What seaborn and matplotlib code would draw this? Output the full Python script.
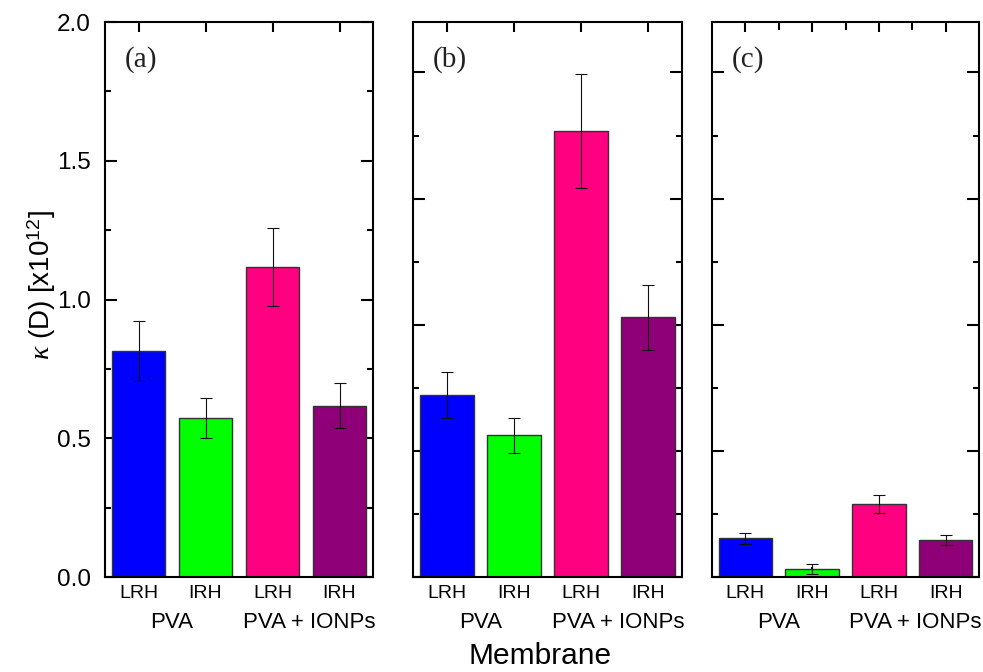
import pandas as pd
import seaborn as sns
import matplotlib
matplotlib.use('Agg')
from matplotlib import pyplot as plt
from matplotlib.ticker import MultipleLocator

sns.set_style("ticks")
plt.rcParams['font.family'] = ['Liberation Sans', 'DejaVu Sans']
plt.rcParams['mathtext.fontset'] = 'custom'
plt.rcParams['mathtext.rm'] = 'Liberation Sans'
plt.rcParams['mathtext.it'] = 'Liberation Serif:italic'
for key in ['text.color', 'axes.labelcolor', 'xtick.color', 'ytick.color']:
    plt.rcParams[key] = 'black'

# bars in each panel: PVA LRH, PVA IRH, PVA+IONPs LRH, PVA+IONPs IRH
bar_keys = ["PVA LRH", "PVA IRH", "IONP LRH", "IONP IRH"]
tick_labels = ["LRH", "IRH", "LRH", "IRH"]
group_labels = ["PVA", "PVA + IONPs"]
panel_names = ["(a)", "(b)", "(c)"]
colors = ["#0000FF", "#00FF00", "#FF0080", "#8F0078"]

a_vals = [0.815, 0.573, 1.117, 0.617]
a_err = [0.108, 0.073, 0.141, 0.081]
b_vals = [0.721, 0.561, 1.768, 1.029]
b_err = [0.092, 0.068, 0.225, 0.130]
c_vals = [0.153, 0.031, 0.290, 0.146]
c_err = [0.021, 0.020, 0.036, 0.019]

panels = [(a_vals, a_err, 2.0), (b_vals, b_err, 2.2), (c_vals, c_err, 2.2)]
lefts = [105, 413, 712]
widths = [268, 269, 267]

fig = plt.figure(figsize=(9.83, 6.72), dpi=100)

for i, (vals, errs, ymax) in enumerate(panels):
    ax = fig.add_axes([lefts[i] / 983, 95 / 672, widths[i] / 983, 555 / 672])
    df = pd.DataFrame({"bar": bar_keys, "k": vals})
    sns.barplot(data=df, x="bar", y="k", hue="bar", order=bar_keys,
                palette=colors, saturation=1, legend=False, width=0.8,
                edgecolor="#333333", linewidth=1.0, ax=ax)
    ax.errorbar(range(4), vals, yerr=errs, fmt="none", ecolor="#111111",
                elinewidth=0.8, capsize=4, capthick=0.8)
    ax.set_xlim(-0.5, 3.5)
    ax.set_ylim(0, ymax)
    ax.yaxis.set_major_locator(MultipleLocator(0.5))
    ax.yaxis.set_minor_locator(MultipleLocator(0.25))
    ax.set_xticks(range(4))
    ax.set_xticklabels(tick_labels, fontsize=14)
    if i == 2:
        ax.set_xticks([0.5, 1.5, 2.5], minor=True)
        ax.tick_params(axis="x", which="minor", direction="in", top=True,
                       bottom=False, length=6, width=1.5)
    ax.tick_params(axis="x", which="major", direction="in", top=True,
                   length=7.5, width=1.5, pad=6)
    ax.tick_params(axis="y", which="major", direction="in", right=True,
                   length=8.5, width=1.5, labelsize=17.5, pad=10)
    ax.tick_params(axis="y", which="minor", direction="in", right=True,
                   length=4.3, width=1.5)
    if i > 0:
        ax.set_yticklabels([])
    for s in ax.spines.values():
        s.set_visible(True)
        s.set_linewidth(1.5)
        s.set_color("black")
    ax.set_xlabel("")
    ax.set_ylabel("")
    ax.text(0.5, -0.082, group_labels[0], transform=ax.get_xaxis_transform(),
            ha="center", va="center", fontsize=16)
    ax.text(2.55, -0.082, group_labels[1], transform=ax.get_xaxis_transform(),
            ha="center", va="center", fontsize=16)
    ax.text(0.135, 0.933, panel_names[i], transform=ax.transAxes,
            ha="center", va="center", fontsize=21, family="Liberation Serif",
            color="#222222")

fig.text(42 / 983, 1 - 285 / 672, r"$\kappa$ (D) [x10$^{12}$]", rotation=90,
         ha="center", va="center", fontsize=20)
fig.text(540 / 983, 0.024, "Membrane", ha="center", va="center", fontsize=21.5)

plt.savefig("out.png", dpi=100)
